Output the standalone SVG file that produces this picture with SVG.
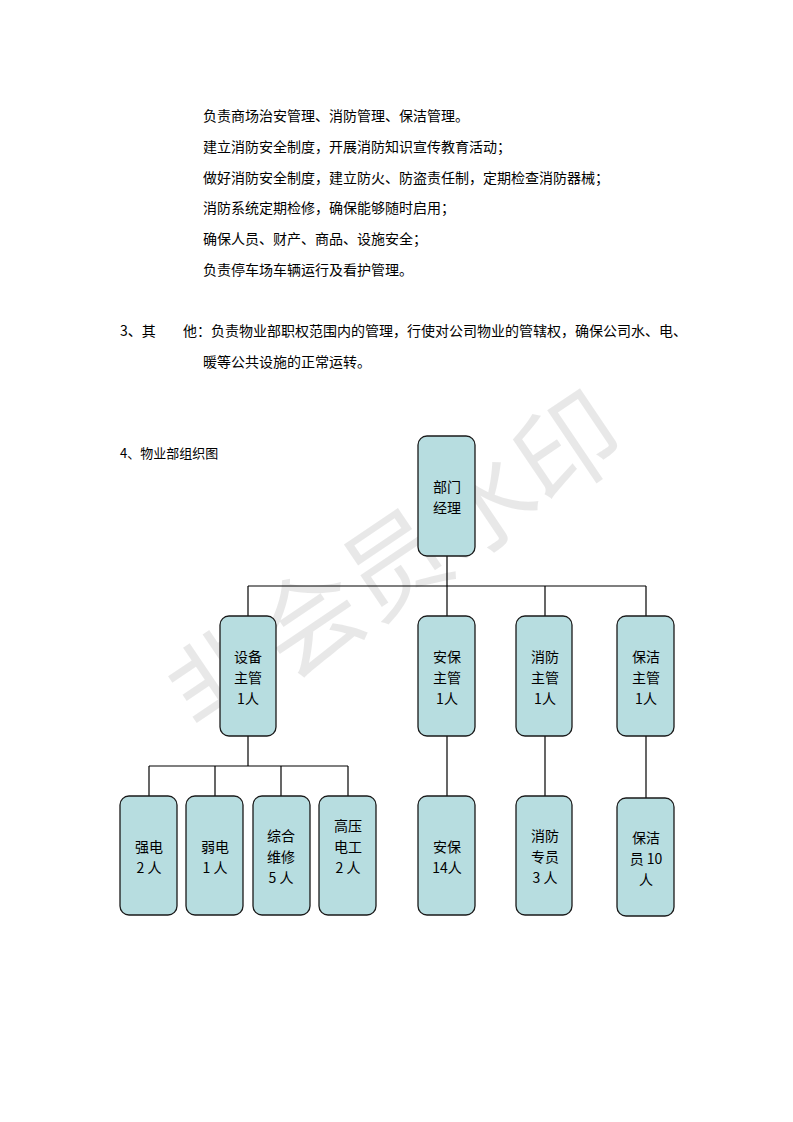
<svg xmlns="http://www.w3.org/2000/svg" width="793" height="1122" viewBox="0 0 793 1122">
<style>
text{font-family:"Noto Sans CJK SC","Liberation Sans",sans-serif;fill:#000}
.b{font-size:14px}
.n rect{fill:#b7dde0;stroke:#1a1a1a;stroke-width:1.3}
.n text{font-size:14px;text-anchor:middle}
.c line{stroke:#000;stroke-width:1.2}
</style>
<rect width="793" height="1122" fill="#fff"/>
<text x="400" y="600" font-size="104" text-anchor="middle" transform="rotate(-34 400 570)" style="fill:#000;fill-opacity:0.09">非会员水印</text>
<g class="b">
<text x="203" y="121">负责商场治安管理、消防管理、保洁管理。</text>
<text x="203" y="152">建立消防安全制度，开展消防知识宣传教育活动；</text>
<text x="203" y="183">做好消防安全制度，建立防火、防盗责任制，定期检查消防器械；</text>
<text x="203" y="213">消防系统定期检修，确保能够随时启用；</text>
<text x="203" y="244">确保人员、财产、商品、设施安全；</text>
<text x="203" y="275">负责停车场车辆运行及看护管理。</text>
<text x="120" y="336">3、其</text><text x="183" y="336">他：负责物业部职权范围内的管理，行使对公司物业的管辖权，确保公司水、电、</text>
<text x="203" y="367">暖等公共设施的正常运转。</text>
<text x="120" y="458" font-size="13">4、物业部组织图</text>
</g>
<g class="c">
<line x1="447" y1="556" x2="447" y2="616"/>
<line x1="248" y1="586" x2="646" y2="586"/>
<line x1="248" y1="586" x2="248" y2="616"/>
<line x1="545" y1="586" x2="545" y2="616"/>
<line x1="646" y1="586" x2="646" y2="616"/>
<line x1="248" y1="736" x2="248" y2="766"/>
<line x1="149" y1="766" x2="348" y2="766"/>
<line x1="149" y1="766" x2="149" y2="796"/>
<line x1="215" y1="766" x2="215" y2="796"/>
<line x1="281" y1="766" x2="281" y2="796"/>
<line x1="348" y1="766" x2="348" y2="796"/>
<line x1="447" y1="736" x2="447" y2="796"/>
<line x1="545" y1="736" x2="545" y2="796"/>
<line x1="646" y1="736" x2="646" y2="798"/>
</g>
<g class="n" id="n0"><rect x="418" y="436" width="57" height="120" rx="9"/><text x="447" y="492">部门</text><text x="447" y="513">经理</text></g>
<g class="n" id="n1"><rect x="220" y="616" width="56" height="120" rx="9"/><text x="248" y="662">设备</text><text x="248" y="683">主管</text><text x="248" y="704">1人</text></g>
<g class="n" id="n2"><rect x="418" y="616" width="57" height="120" rx="9"/><text x="447" y="662">安保</text><text x="447" y="683">主管</text><text x="447" y="704">1人</text></g>
<g class="n" id="n3"><rect x="516" y="616" width="56" height="120" rx="9"/><text x="545" y="662">消防</text><text x="545" y="683">主管</text><text x="545" y="704">1人</text></g>
<g class="n" id="n4"><rect x="617" y="616" width="57" height="120" rx="9"/><text x="646" y="662">保洁</text><text x="646" y="683">主管</text><text x="646" y="704">1人</text></g>
<g class="n" id="n5"><rect x="120" y="796" width="57" height="119" rx="9"/><text x="149" y="852">强电</text><text x="149" y="873">2 人</text></g>
<g class="n" id="n6"><rect x="186" y="796" width="57" height="119" rx="9"/><text x="215" y="852">弱电</text><text x="215" y="873">1 人</text></g>
<g class="n" id="n7"><rect x="253" y="796" width="57" height="119" rx="9"/><text x="281" y="841">综合</text><text x="281" y="862">维修</text><text x="281" y="883">5 人</text></g>
<g class="n" id="n8"><rect x="319" y="796" width="57" height="119" rx="9"/><text x="348" y="831">高压</text><text x="348" y="852">电工</text><text x="348" y="873">2 人</text></g>
<g class="n" id="n9"><rect x="418" y="796" width="57" height="119" rx="9"/><text x="447" y="852">安保</text><text x="447" y="873">14人</text></g>
<g class="n" id="n10"><rect x="516" y="796" width="56" height="119" rx="9"/><text x="545" y="841">消防</text><text x="545" y="862">专员</text><text x="545" y="883">3 人</text></g>
<g class="n" id="n11"><rect x="617" y="798" width="57" height="118" rx="9"/><text x="646" y="843">保洁</text><text x="646" y="864">员 10</text><text x="646" y="885">人</text></g>
</svg>
